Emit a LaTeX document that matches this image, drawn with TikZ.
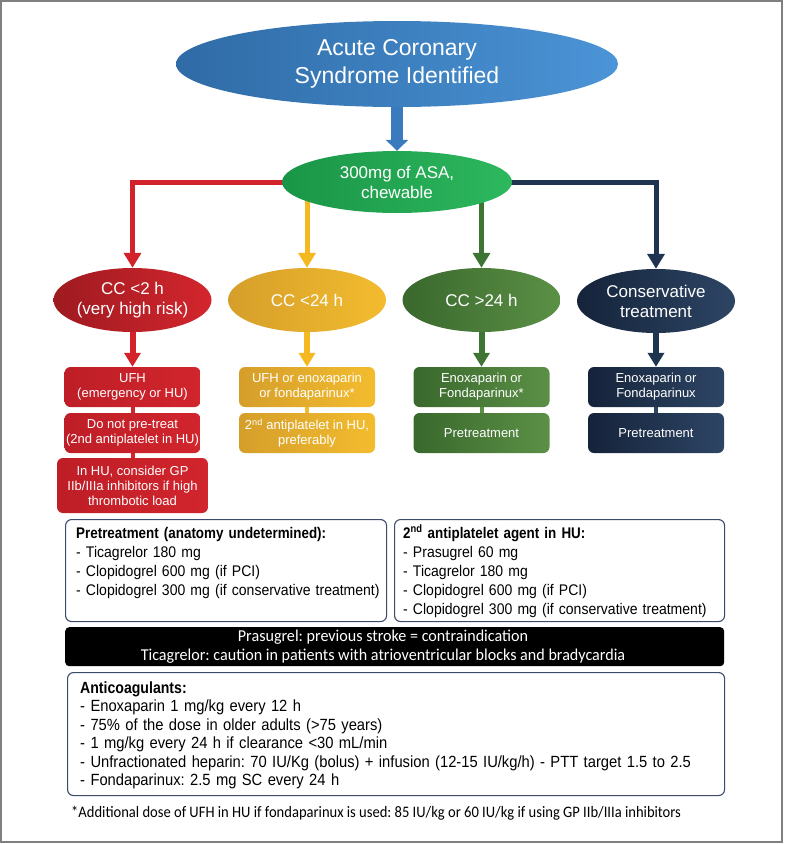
\documentclass[tikz,border=0pt]{standalone}
\usepackage{fontspec}
\setmainfont{Liberation Sans}
\newfontfamily\narrowf[FakeStretch=0.91, BoldFeatures={FakeStretch=0.87}]{Liberation Sans}
\newfontfamily\myriadbar[FakeStretch=0.97]{Carlito}
\newfontfamily\myriadfoot[FakeStretch=0.91]{Carlito}
\usetikzlibrary{shapes.geometric,arrows.meta,backgrounds}
\frenchspacing
\definecolor{topL}{HTML}{2F6BA6}
\definecolor{topR}{HTML}{4B94D7}
\definecolor{blueArrow}{HTML}{3A7BC0}
\definecolor{asaL}{HTML}{1A9547}
\definecolor{asaR}{HTML}{2DB85E}
\definecolor{redL}{HTML}{9E1A20}
\definecolor{redR}{HTML}{D4262E}
\definecolor{redBoxL}{HTML}{BE1E27}
\definecolor{redBoxR}{HTML}{D2252D}
\definecolor{redLine}{HTML}{D2232A}
\definecolor{yelL}{HTML}{D59E2A}
\definecolor{yelR}{HTML}{F3BC2E}
\definecolor{yelLine}{HTML}{F4B920}
\definecolor{grnL}{HTML}{3A682D}
\definecolor{grnR}{HTML}{5B9046}
\definecolor{grnLine}{HTML}{3E7434}
\definecolor{navL}{HTML}{15233A}
\definecolor{navR}{HTML}{2D4564}
\definecolor{navLine}{HTML}{1F354F}
\definecolor{boxLine}{HTML}{3D4B6B}
\definecolor{frameGray}{HTML}{808080}
\tikzset{
  ell/.style={ellipse, text=white, align=center, inner sep=0pt},
  lvl/.style={ell, minimum width=158pt, minimum height=64pt, font=\fontsize{17}{20}\selectfont},
  sbox/.style={rounded corners=6pt, text=white, align=center, minimum width=136pt, minimum height=40pt, inner sep=0pt, font=\fontsize{13}{15}\selectfont},
  redfill/.style={left color=redBoxL, right color=redBoxR},
  yelfill/.style={left color=yelL, right color=yelR},
  grnfill/.style={left color=grnL, right color=grnR},
  navfill/.style={left color=navL, right color=navR},
  branch/.style={line width=5pt, -{Triangle[width=17pt,length=15pt]}},
  downarrow/.style={line width=6pt, -{Triangle[width=16pt,length=14pt]}},
  stub/.style={line width=4pt},
  info/.style={draw=boxLine, line width=1.1pt, rounded corners=6pt, inner sep=0pt, anchor=north west},
  infotext/.style={anchor=north west, inner sep=0pt, align=left}
}
\begin{document}
\begin{tikzpicture}[x=1pt,y=-1pt]
\useasboundingbox (0,0) rectangle (785,844);
\draw[frameGray, line width=1.5pt] (1,1) rectangle (782,842);

% top nodes
\node[ell, minimum width=442pt, minimum height=86pt, left color=topL, right color=topR,
      font=\fontsize{23}{28}\selectfont] (acs) at (397,64) {Acute Coronary\\Syndrome Identified};
\node[ell, minimum width=230pt, minimum height=62pt, left color=asaL, right color=asaR,
      font=\fontsize{17}{20}\selectfont] (asa) at (397,182) {300mg of ASA,\\chewable};

% level nodes
\node[lvl, left color=redL, right color=redR] (cc2) at (132.5,300) {CC <2 h\\(very high risk)};
\node[lvl, left color=yelL, right color=yelR] (cc24) at (307,300) {CC <24 h};
\node[lvl, left color=grnL, right color=grnR] (cc24b) at (481.5,300) {CC >24 h};
\node[lvl, left color=navL, right color=navR] (cons) at (656,301) {Conservative\\treatment};

% boxes
\node[sbox, redfill] (r1) at (132.5,387) {UFH\\(emergency or HU)};
\node[sbox, redfill] (r2) at (132.5,433) {Do not pre-treat\\(2nd antiplatelet in HU)};
\node[sbox, redfill, minimum width=151pt, minimum height=55pt] (r3) at (132.5,485.5) {In HU, consider GP\\IIb/IIIa inhibitors if high\\thrombotic load};
\node[sbox, yelfill] (y1) at (307,387) {UFH or enoxaparin\\or fondaparinux*};
\node[sbox, yelfill] (y2) at (307,433) {2\textsuperscript{nd} antiplatelet in HU,\\preferably};
\node[sbox, grnfill] (g1) at (481.5,387) {Enoxaparin or\\Fondaparinux*};
\node[sbox, grnfill] (g2) at (481.5,433) {Pretreatment};
\node[sbox, navfill] (n1) at (656,387) {Enoxaparin or\\Fondaparinux};
\node[sbox, navfill] (n2) at (656,433) {Pretreatment};

% connectors on background
\begin{pgfonlayer}{background}
\draw[line width=12pt, blueArrow, -{Triangle[width=22pt,length=11pt]}] (acs.center) -- (asa.north);
\draw[branch, redLine] (asa.center) -| (cc2.north);
\draw[branch, navLine] (asa.center) -| (cons.north);
\draw[branch, yelLine] (cc24.north |- asa.center) -- (cc24.north);
\draw[branch, grnLine] (cc24b.north |- asa.center) -- (cc24b.north);
\draw[stub, redBoxR] (r1.center) -- (r2.center);
\draw[stub, redBoxR] (r2.center) -- (r3.center);
\draw[stub, yelR] (y1.center) -- (y2.center);
\draw[stub, grnR] (g1.center) -- (g2.center);
\draw[stub, navR] (n1.center) -- (n2.center);
\end{pgfonlayer}
\draw[downarrow, redLine] (cc2.south) -- (r1.north);
\draw[downarrow, yelLine] (cc24.south) -- (y1.north);
\draw[downarrow, grnLine] (cc24b.south) -- (g1.north);
\draw[downarrow, navLine] (cons.south) -- (n1.north);

% info boxes
\node[info, minimum width=321pt, minimum height=102pt] (pre) at (65,519) {};
\node[infotext, text width=310pt, font=\narrowf\fontsize{15.4}{19}\selectfont] (pretext) at ([xshift=11pt,yshift=-5.7pt]pre.north west)
 {\strut\textbf{Pretreatment (anatomy undetermined):}\\- Ticagrelor 180 mg\\- Clopidogrel 600 mg (if PCI)\\- Clopidogrel 300 mg (if conservative treatment)};
\node[info, minimum width=330pt, minimum height=102pt] (anti) at (394,519) {};
\node[infotext, text width=320pt, font=\narrowf\fontsize{15.4}{19}\selectfont] (antitext) at ([xshift=9pt,yshift=-5.7pt]anti.north west)
 {\strut\textbf{2\textsuperscript{nd} antiplatelet agent in HU:}\\- Prasugrel 60 mg\\- Ticagrelor 180 mg\\- Clopidogrel 600 mg (if PCI)\\- Clopidogrel 300 mg (if conservative treatment)};

\node[fill=black, rounded corners=4pt, minimum width=659pt, minimum height=39pt, inner sep=0pt, anchor=north west] (warn) at (65,627) {};
\node[text=white, align=center, inner sep=0pt, font=\myriadbar\fontsize{16.6}{19}\selectfont] (warntext) at (383,647)
 {Prasugrel: previous stroke = contraindication\\Ticagrelor: caution in patients with atrioventricular blocks and bradycardia};

\node[info, minimum width=657pt, minimum height=123pt] (coag) at (67,672) {};
\node[infotext, text width=640pt, font=\narrowf\fontsize{16.2}{18.5}\selectfont] (coagtext) at ([xshift=13pt,yshift=-8pt]coag.north west)
 {\strut\textbf{Anticoagulants:}\\- Enoxaparin 1 mg/kg every 12 h\\- 75\% of the dose in older adults (>75 years)\\- 1 mg/kg every 24 h if clearance <30 mL/min\\- Unfractionated heparin: 70 IU/Kg (bolus) + infusion (12-15 IU/kg/h) - PTT target 1.5 to 2.5\\- Fondaparinux: 2.5 mg SC every 24 h};

\node[anchor=west, inner sep=0pt, font=\myriadfoot\fontsize{16}{18}\selectfont] (foot) at (71,813)
 {*Additional dose of UFH in HU if fondaparinux is used: 85 IU/kg or 60 IU/kg if using GP IIb/IIIa inhibitors};
\end{tikzpicture}
\end{document}
